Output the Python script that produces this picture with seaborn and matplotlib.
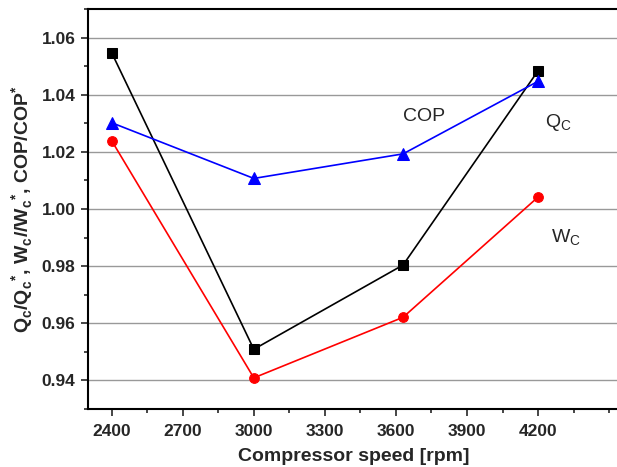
import pandas as pd
import matplotlib
matplotlib.use('Agg')
import matplotlib.pyplot as plt
import seaborn as sns
from matplotlib.ticker import MultipleLocator

# data
speed = [2400, 3000, 3630, 4200]
q_ratio = [1.0547, 0.9509, 0.9804, 1.0484]
cop_ratio = [1.0302, 1.0107, 1.0193, 1.0447]
w_ratio = [1.0239, 0.9409, 0.9621, 1.0042]
xticks = [2400, 2700, 3000, 3300, 3600, 3900, 4200]

sns.set_style('ticks')
plt.rcParams['font.family'] = ['Liberation Sans', 'DejaVu Sans']

fig = plt.figure(figsize=(6.17, 4.67), dpi=100)
ax = fig.add_axes([0.1426, 0.1242, 0.862, 0.8565])

for vals, col, mk, ms in [(q_ratio, 'black', 's', 7),
                          (cop_ratio, 'blue', '^', 8),
                          (w_ratio, 'red', 'o', 7)]:
    df = pd.DataFrame({'speed': speed, 'ratio': vals})
    sns.lineplot(data=df, x='speed', y='ratio', color=col, marker=mk,
                 markersize=ms, markeredgecolor=col, linewidth=1.2, ax=ax)

ax.set_xlim(2300, 4545)
ax.set_ylim(0.93, 1.07)
ax.set_xticks(xticks)
ax.xaxis.set_minor_locator(MultipleLocator(150))
ax.yaxis.set_major_locator(MultipleLocator(0.02))
ax.yaxis.set_minor_locator(MultipleLocator(0.01))
ax.yaxis.set_major_formatter(matplotlib.ticker.FormatStrFormatter('%.2f'))
ax.grid(axis='y', which='major', color='#999999', linewidth=1)
ax.set_axisbelow(True)

for s in ax.spines.values():
    s.set_linewidth(1.5)
    s.set_color('black')
ax.tick_params(which='major', length=5, width=1.2, labelsize=12.5, pad=6)
ax.tick_params(axis='y', which='major', pad=4)
ax.tick_params(which='minor', length=3, width=1.2)
for lab in ax.get_xticklabels() + ax.get_yticklabels():
    lab.set_fontweight('bold')

ax.set_xlabel('Compressor speed [rpm]', fontsize=14, fontweight='bold',
              labelpad=6)
ax.set_ylabel(r'Q$_\mathregular{c}$/Q$_\mathregular{c}$$^\mathregular{*}$, '
              r'W$_\mathregular{c}$//W$_\mathregular{c}$$^\mathregular{*}$, '
              r'COP/COP$^\mathregular{*}$',
              fontsize=14, fontweight='bold', labelpad=4)

ax.text(3717, 1.0323, 'COP', fontsize=14, ha='center', va='center')
ax.text(4285, 1.0302, r'Q$_\mathregular{C}$', fontsize=14, ha='center', va='center')
ax.text(4319, 0.9898, r'W$_\mathregular{C}$', fontsize=14, ha='center', va='center')

fig.savefig('out.png', dpi=100)
